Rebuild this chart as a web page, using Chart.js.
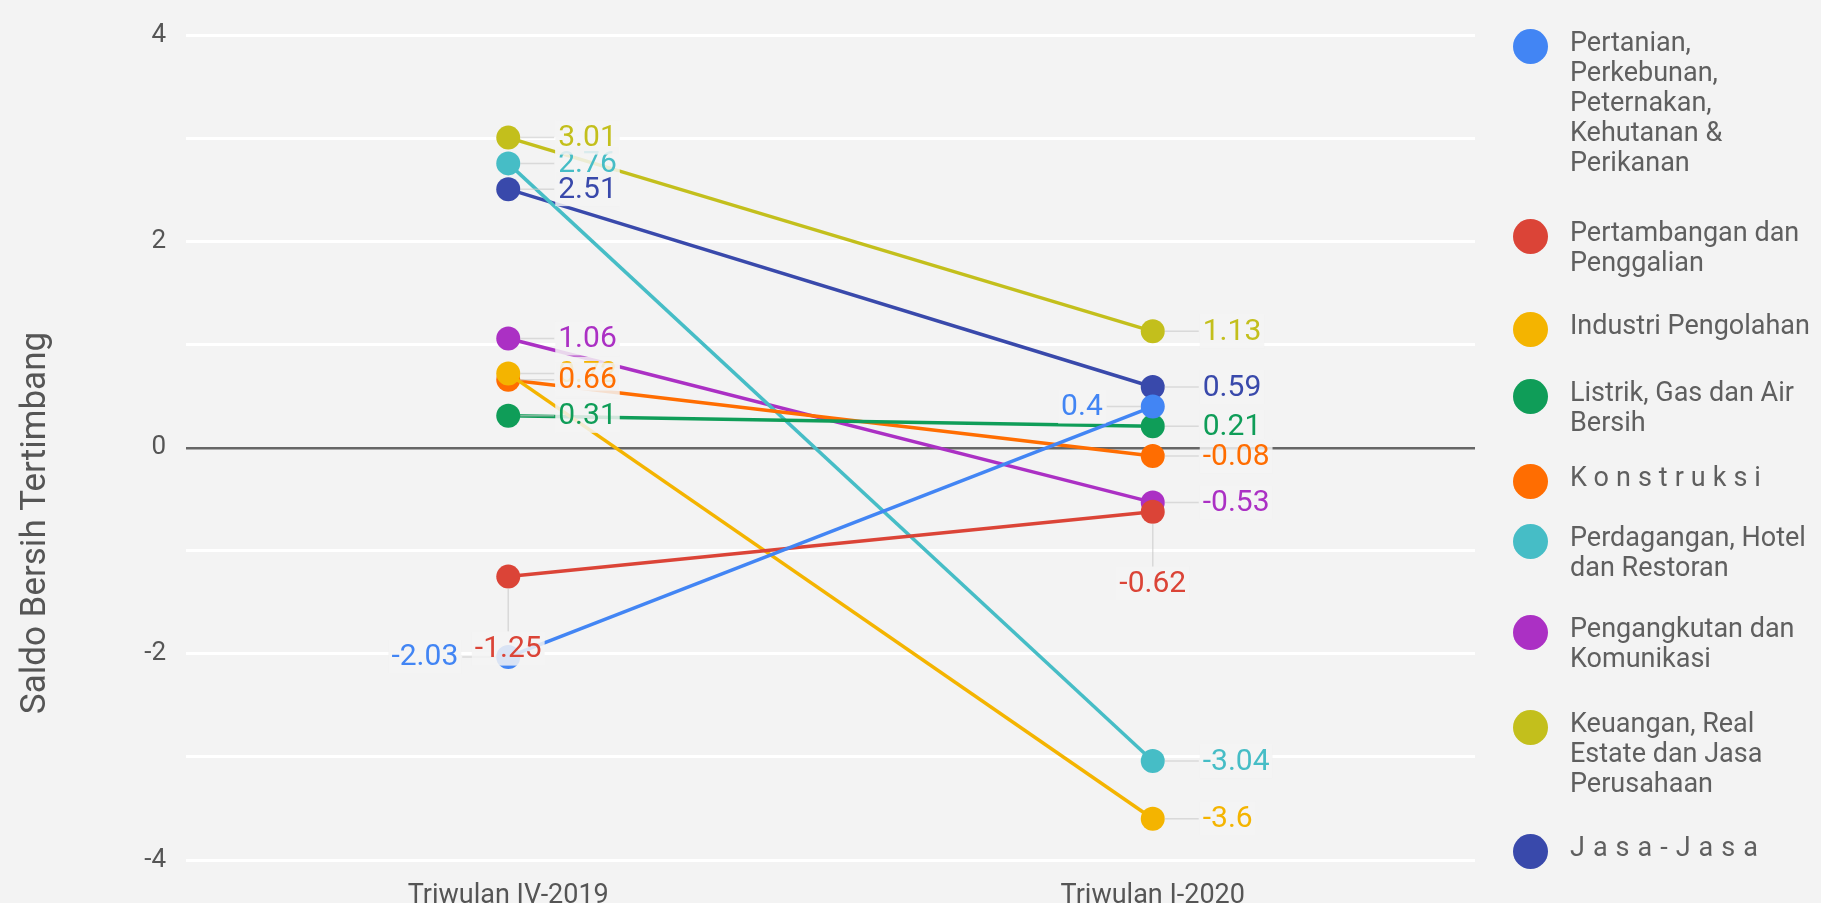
<!DOCTYPE html>
<html>
<head>
<meta charset="utf-8">
<script src="https://cdn.jsdelivr.net/npm/chart.js@4.4.0/dist/chart.umd.min.js"></script>
<style>
  html, body { margin: 0; padding: 0; background: #f3f3f3; }
  #wrap { position: relative; width: 1821px; height: 903px; }
  #legend { position: absolute; left: 1513px; top: 27px; font-family: Roboto, sans-serif; font-size: 27px; color: #5f5f5f; }
  .item { display: flex; align-items: flex-start; margin-bottom: 33px; }
  .dot { width: 35px; height: 35px; border-radius: 50%; margin-top: 2px; margin-right: 22px; flex: none; }
  .txt { line-height: 30px; white-space: nowrap; }
</style>
</head>
<body>
<div id="wrap">
  <canvas id="chart" width="1821" height="903"></canvas>
  <div id="legend"></div>
</div>
<script>
// periods on the x axis
const periods = ['Triwulan IV-2019', 'Triwulan I-2020'];

// sector names, one array of lines each (as wrapped in the legend)
const sectorNames = [
  ['Pertanian,', 'Perkebunan,', 'Peternakan,', 'Kehutanan &', 'Perikanan'],
  ['Pertambangan dan', 'Penggalian'],
  ['Industri Pengolahan'],
  ['Listrik, Gas dan Air', 'Bersih'],
  ['Konstruksi'],
  ['Perdagangan, Hotel', 'dan Restoran'],
  ['Pengangkutan dan', 'Komunikasi'],
  ['Keuangan, Real', 'Estate dan Jasa', 'Perusahaan'],
  ['Jasa-Jasa']
];

// saldo bersih tertimbang per sector: [IV-2019, I-2020]
const pertanian = [-2.03, 0.4];
const pertambangan = [-1.25, -0.62];
const industri = [0.72, -3.6];
const listrik = [0.31, 0.21];
const konstruksi = [0.66, -0.08];
const perdagangan = [2.76, -3.04];
const pengangkutan = [1.06, -0.53];
const keuangan = [3.01, 1.13];
const jasa = [2.51, 0.59];

const seriesValues = [pertanian, pertambangan, industri, listrik, konstruksi,
  perdagangan, pengangkutan, keuangan, jasa];

const yTicks = [-4, -2, 0, 2, 4];

// styling
const sectorColors = ['#4285f4', '#db4437', '#f4b400', '#0f9d58', '#ff6d01',
  '#46bdc6', '#ab30c4', '#c3bf1c', '#3949ab'];
const legendSpacing = [0, 0, 0, 0, 7, 0, 0, 0, 8];
const legendGap = [40, 33, 30, 25, 23, 31, 35, 34, 0];
// where a value label goes, when not to the right of its point
const labelSide = { '0-0': 'left', '0-1': 'left', '1-0': 'below', '1-1': 'below' };

// legend
const legendEl = document.getElementById('legend');
sectorNames.forEach((lines, i) => {
  const item = document.createElement('div');
  item.className = 'item';
  item.style.marginBottom = legendGap[i] + 'px';
  const dot = document.createElement('div');
  dot.className = 'dot';
  dot.style.background = sectorColors[i];
  const txt = document.createElement('div');
  txt.className = 'txt';
  txt.style.letterSpacing = legendSpacing[i] + 'px';
  txt.innerHTML = lines.join('<br>');
  item.appendChild(dot);
  item.appendChild(txt);
  legendEl.appendChild(item);
});

const valueLabels = {
  id: 'valueLabels',
  afterDatasetsDraw(chart) {
    const ctx = chart.ctx;
    ctx.save();
    ctx.font = '30px Roboto';
    ctx.textBaseline = 'middle';
    ctx.textAlign = 'left';
    chart.data.datasets.forEach((ds, i) => {
      const meta = chart.getDatasetMeta(i);
      meta.data.forEach((pt, j) => {
        const side = labelSide[i + '-' + j] || 'right';
        const text = String(ds.data[j]);
        const w = ctx.measureText(text).width;
        let lx, ly = pt.y;
        ctx.strokeStyle = 'rgba(200,200,200,0.6)';
        ctx.lineWidth = 1.5;
        ctx.beginPath();
        if (side === 'right') {
          lx = pt.x + 50;
          ctx.moveTo(pt.x + 12, pt.y); ctx.lineTo(lx - 4, ly);
        } else if (side === 'left') {
          lx = pt.x - 50 - w;
          ctx.moveTo(pt.x - 12, pt.y); ctx.lineTo(lx + w + 4, ly);
        } else {
          lx = pt.x - w / 2;
          ly = pt.y + 72;
          ctx.moveTo(pt.x, pt.y + 12); ctx.lineTo(pt.x, ly - 17);
        }
        ctx.stroke();
        ctx.fillStyle = 'rgba(243,243,243,0.85)';
        ctx.fillRect(lx - 3, ly - 17, w + 6, 34);
        ctx.fillStyle = ds.borderColor;
        ctx.fillText(text, lx, ly + 1);
      });
    });
    ctx.restore();
  }
};

const yTitle = {
  id: 'yTitle',
  afterDraw(chart) {
    const ctx = chart.ctx;
    ctx.save();
    ctx.translate(36, 523);
    ctx.rotate(-Math.PI / 2);
    ctx.font = '35px Roboto';
    ctx.fillStyle = '#555';
    ctx.textAlign = 'center';
    ctx.textBaseline = 'middle';
    ctx.fillText('Saldo Bersih Tertimbang', 0, 0);
    ctx.restore();
  }
};

new Chart(document.getElementById('chart'), {
  type: 'line',
  data: {
    labels: periods,
    datasets: seriesValues.map((vals, i) => ({
      label: sectorNames[i].join(' '),
      data: vals,
      borderColor: sectorColors[i],
      backgroundColor: sectorColors[i],
      pointBackgroundColor: sectorColors[i],
      borderWidth: 3.5,
      pointRadius: 12,
      pointHoverRadius: 12,
      pointBorderWidth: 0,
      tension: 0
    }))
  },
  options: {
    responsive: false,
    animation: false,
    devicePixelRatio: 1,
    layout: { padding: { top: 33, right: 346, left: 0, bottom: 0 } },
    plugins: {
      legend: { display: false },
      tooltip: { enabled: false }
    },
    scales: {
      x: {
        offset: true,
        grid: { display: false },
        border: { display: false },
        ticks: { font: { family: 'Roboto', size: 27 }, color: '#555', padding: 12 },
        afterFit: s => { s.height = 43; }
      },
      y: {
        min: yTicks[0],
        max: yTicks[yTicks.length - 1],
        ticks: {
          stepSize: 1,
          font: { family: 'Roboto', size: 26 },
          color: '#555',
          padding: 20,
          callback: v => (yTicks.includes(v) ? v : '')
        },
        grid: {
          drawTicks: false,
          color: c => (c.tick.value === 0 ? '#666' : '#ffffff'),
          lineWidth: c => (c.tick.value === 0 ? 2.5 : 3)
        },
        border: { display: false },
        afterFit: s => { s.width = 186; }
      }
    }
  },
  plugins: [valueLabels, yTitle]
});
</script>
</body>
</html>
